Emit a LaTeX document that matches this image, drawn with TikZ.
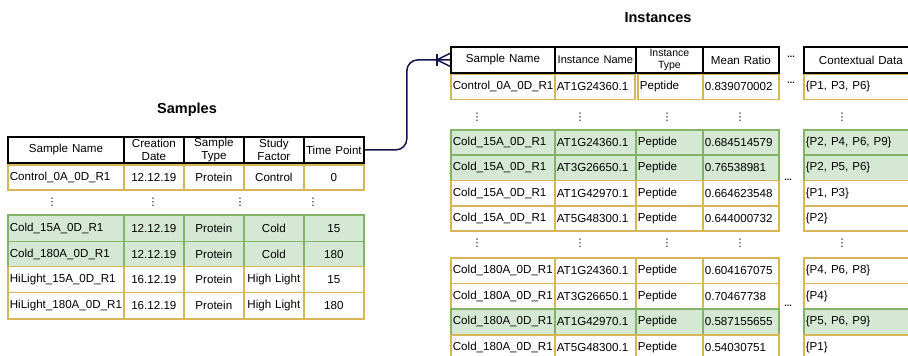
\documentclass[tikz,border=0pt]{standalone}
\usepackage{fontspec}
\setmainfont{Liberation Sans}
\newfontfamily\djv{DejaVu Sans}
\usetikzlibrary{calc}

\definecolor{ybd}{HTML}{D6B656}
\definecolor{gbd}{HTML}{82B366}
\definecolor{gfl}{HTML}{D5E8D4}
\definecolor{navy}{HTML}{10144A}

% one table cell: name, x1, y1, x2, y2, style, alignment, text
\newcommand\cellbox[8]{%
  \pgfmathsetmacro\cw{#4-#2}%
  \pgfmathsetmacro\ch{#5-#3}%
  \pgfmathsetmacro\tw{#4-#2-4}%
  \node[#6, anchor=north west, minimum width=\cw pt, minimum height=\ch pt,
        text width=\tw pt, inner xsep=2pt, inner ysep=0pt, align=#7]
        (#1) at (#2,#3) {#8};%
}

% a row of the Samples table: prefix, y1, y2, style, five texts
\newcommand\srow[9]{%
  \cellbox{#1a}{7}{#2}{123}{#3}{#4}{left}{#5}%
  \cellbox{#1b}{123}{#2}{183}{#3}{#4}{center}{#6}%
  \cellbox{#1c}{183}{#2}{243}{#3}{#4}{center}{#7}%
  \cellbox{#1d}{243}{#2}{303}{#3}{#4}{center}{#8}%
  \cellbox{#1e}{303}{#2}{363}{#3}{#4}{center}{#9}%
}

% a row of the Instances table: prefix, y1, y2, style, five texts
\newcommand\irow[9]{%
  \cellbox{#1a}{450}{#2}{554}{#3}{#4}{left}{#5}%
  \cellbox{#1b}{554}{#2}{635}{#3}{#4}{left}{#6}%
  \cellbox{#1c}{635}{#2}{702}{#3}{#4}{left}{#7}%
  \cellbox{#1d}{702}{#2}{778}{#3}{#4}{left}{#8}%
  \cellbox{#1e}{803}{#2}{917}{#3}{#4}{left}{#9}%
}

\begin{document}
\begin{tikzpicture}[x=1pt,y=-1pt,
  every node/.style={font=\fontsize{11.6}{12.8}\selectfont},
  hdr/.style={draw=black, line width=1.8pt, fill=white},
  ycell/.style={draw=ybd, line width=1.7pt, fill=white},
  gcell/.style={draw=gbd, line width=1.7pt, fill=gfl},
  title/.style={font=\fontsize{14.5}{16}\selectfont\bfseries},
  vdot/.style={font=\djv\fontsize{10.5}{10.5}\selectfont, inner sep=0pt},
  hdot/.style={font=\fontsize{9}{9}\selectfont\bfseries, inner sep=0pt},
  conn/.style={draw=navy, line width=1.5pt}]

\useasboundingbox (0,0) rectangle (908,356);
\clip (0,0) rectangle (908,356);

% ---------------- Samples table ----------------
\node[title] (samplesTitle) at (187,110) {Samples};

\cellbox{sh1}{7}{136}{123}{162}{hdr}{center}{Sample Name}
\cellbox{sh2}{123}{136}{183}{162}{hdr}{center}{Creation\\Date}
\cellbox{sh3}{183}{136}{243}{162}{hdr}{center}{Sample\\Type}
\cellbox{sh4}{243}{136}{303}{162}{hdr}{center}{Study\\Factor}
\cellbox{sh5}{303}{136}{363}{162}{hdr}{center}{Time Point}

\srow{sr1}{164}{189.3}{ycell}{Control\_0A\_0D\_R1}{12.12.19}{Protein}{Control}{0}

\node[vdot] (sv1) at (52,202) {⋮};
\node[vdot] (sv2) at (153,202) {⋮};
\node[vdot] (sv3) at (240,202) {⋮};
\node[vdot] (sv4) at (313,202) {⋮};

\srow{sr2}{214.3}{240.7}{gcell}{Cold\_15A\_0D\_R1}{12.12.19}{Protein}{Cold}{15}
\srow{sr3}{240.7}{265.7}{gcell}{Cold\_180A\_0D\_R1}{12.12.19}{Protein}{Cold}{180}
\srow{sr4}{265.7}{291.7}{ycell}{HiLight\_15A\_0D\_R1}{16.12.19}{Protein}{High Light}{15}
\srow{sr5}{291.7}{318.3}{ycell}{HiLight\_180A\_0D\_R1}{16.12.19}{Protein}{High Light}{180}

% ---------------- Instances table ----------------
\node[title] (instTitle) at (658,18) {Instances};

\cellbox{ih1}{450}{46}{554}{72}{hdr}{center}{Sample Name}
\cellbox{ih2}{554}{46}{635}{72}{hdr}{center}{\fontsize{11.1}{12.8}\selectfont Instance Name}
\cellbox{ih3}{635}{46}{702}{72}{hdr}{center}{\fontsize{10.5}{11.4}\selectfont Instance\\Type}
\cellbox{ih4}{702}{46}{778}{72}{hdr}{center}{Mean Ratio}
\cellbox{ih5}{803}{46}{917}{72}{hdr}{center}{Contextual Data}
\node[hdot] (ihd) at (791,57) {...};

\cellbox{ir1a}{450}{73.5}{554}{98.5}{ycell}{left}{Control\_0A\_0D\_R1}
\cellbox{ir1b}{554}{73.5}{634}{98.5}{ycell}{left}{AT1G24360.1}
\cellbox{ir1c}{637}{73.5}{702}{98.5}{ycell}{left}{Peptide}
\cellbox{ir1d}{702}{73.5}{778}{98.5}{ycell}{left}{0.839070002}
\cellbox{ir1e}{803}{73.5}{917}{98.5}{ycell}{left}{\{P1, P3, P6\}}
\node[hdot] (ir1dot) at (791,83) {...};

\node[vdot] (iv1) at (477,117) {⋮};
\node[vdot] (iv2) at (580,117) {⋮};
\node[vdot] (iv3) at (667,117) {⋮};
\node[vdot] (iv4) at (740,117) {⋮};
\node[vdot] (iv5) at (842,117) {⋮};

\irow{ir2}{129}{154}{gcell}{Cold\_15A\_0D\_R1}{AT1G24360.1}{Peptide}{0.684514579}{\{P2, P4, P6, P9\}}
\irow{ir3}{154}{179.5}{gcell}{Cold\_15A\_0D\_R1}{AT3G26650.1}{Peptide}{0.76538981}{\{P2, P5, P6\}}
\irow{ir4}{179.5}{205}{ycell}{Cold\_15A\_0D\_R1}{AT1G42970.1}{Peptide}{0.664623548}{\{P1, P3\}}
\irow{ir5}{205}{230}{ycell}{Cold\_15A\_0D\_R1}{AT5G48300.1}{Peptide}{0.644000732}{\{P2\}}
\node[hdot] (igd1) at (788,179.5) {...};

\node[vdot] (iw1) at (477,243) {⋮};
\node[vdot] (iw2) at (580,243) {⋮};
\node[vdot] (iw3) at (667,243) {⋮};
\node[vdot] (iw4) at (740,243) {⋮};
\node[vdot] (iw5) at (842,243) {⋮};

\irow{ir6}{257}{282.5}{ycell}{Cold\_180A\_0D\_R1}{AT1G24360.1}{Peptide}{0.604167075}{\{P4, P6, P8\}}
\irow{ir7}{282.5}{308}{ycell}{Cold\_180A\_0D\_R1}{AT3G26650.1}{Peptide}{0.70467738}{\{P4\}}
\irow{ir8}{308}{334}{gcell}{Cold\_180A\_0D\_R1}{AT1G42970.1}{Peptide}{0.587155655}{\{P5, P6, P9\}}
\irow{ir9}{334}{359.5}{ycell}{Cold\_180A\_0D\_R1}{AT5G48300.1}{Peptide}{0.54030751}{\{P1\}}
\node[hdot] (igd2) at (788,306) {...};

% ---------------- relation: one sample to many instances ----------------
\draw[conn, rounded corners=11pt] (sh5.east) -- ++(42,0) |- (ih1.west);
\coordinate (foot) at ([xshift=-13pt]ih1.west);
\draw[conn] ([yshift=6.5pt]ih1.west) -- (foot) -- ([yshift=-6.5pt]ih1.west);
\draw[conn] ([yshift=6pt]foot) -- ([yshift=-6pt]foot);

\end{tikzpicture}
\end{document}
